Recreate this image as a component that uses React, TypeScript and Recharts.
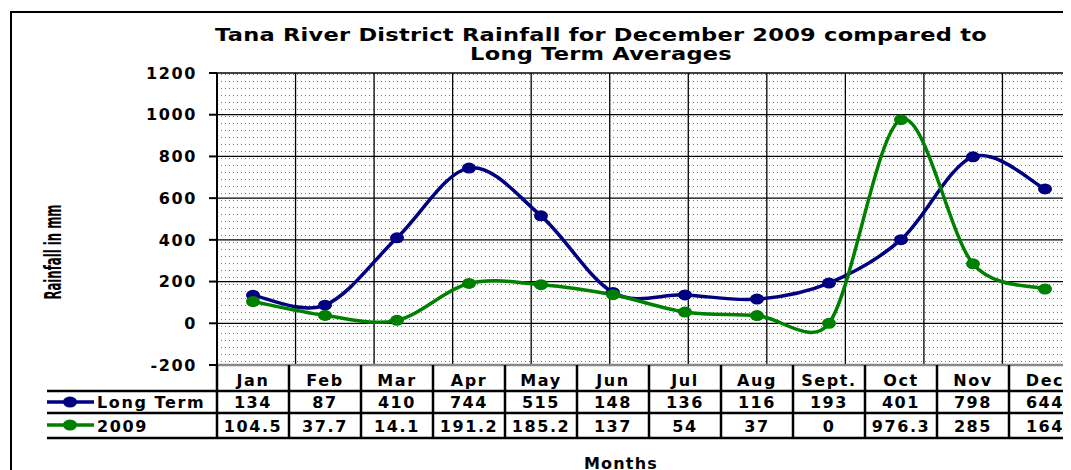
import { LineChart, Line, XAxis, YAxis, CartesianGrid } from "recharts";

const months = ["Jan", "Feb", "Mar", "Apr", "May", "Jun", "Jul", "Aug", "Sept.", "Oct", "Nov", "Dec"];
const longTerm = [134, 87, 410, 744, 515, 148, 136, 116, 193, 401, 798, 644];
const rain2009 = [104.5, 37.7, 14.1, 191.2, 185.2, 137, 54, 37, 0, 976.3, 285, 164];
const yTicks = [-200, 0, 200, 400, 600, 800, 1000, 1200];
const seriesNames = ["Long Term", "2009"];

const data = months.map((m, i) => ({ month: m, longTerm: longTerm[i], rain2009: rain2009[i] }));
// column edges for the grid axis (0..12)
const edgeTicks = [...months.map((_, i) => i), months.length];

const BLUE = "#000080";
const GREEN = "#008000";
const COL_W = 72;
const FONT = "'DejaVu Sans', Verdana, sans-serif";

// Excel style smoothing: bezier with 1/6 tangents, clamped to half the segment.
// distances measured with x squeezed a bit (the original chart was narrower)
function excelCurve(context: any) {
  let pts: number[][] = [];
  const dist = (a: number[], b: number[]) => Math.hypot((a[0] - b[0]) * 0.74, a[1] - b[1]);
  return {
    areaStart() {},
    areaEnd() {},
    lineStart() {
      pts = [];
    },
    point(x: number, y: number) {
      pts.push([+x, +y]);
    },
    lineEnd() {
      if (!pts.length) return;
      context.moveTo(pts[0][0], pts[0][1]);
      for (let i = 0; i < pts.length - 1; i++) {
        const p0 = pts[i - 1] || pts[i];
        const p1 = pts[i];
        const p2 = pts[i + 1];
        const p3 = pts[i + 2] || p2;
        const d12 = dist(p1, p2);
        const d02 = dist(p0, p2);
        const d13 = dist(p1, p3);
        const f0 = d02 / 6 < d12 / 2 ? 1 / 6 : d12 / (2 * d02 || 1);
        const f1 = d13 / 6 < d12 / 2 ? 1 / 6 : d12 / (2 * d13 || 1);
        context.bezierCurveTo(
          p1[0] + (p2[0] - p0[0]) * f0,
          p1[1] + (p2[1] - p0[1]) * f0,
          p2[0] - (p3[0] - p1[0]) * f1,
          p2[1] - (p3[1] - p1[1]) * f1,
          p2[0],
          p2[1]
        );
      }
    },
  };
}

const makeDot = (color: string) => (p: any) => (
  <ellipse key={`d-${p.index}`} cx={p.cx} cy={p.cy} rx={7} ry={5.5} fill={color} />
);

const cellText = {
  fontFamily: FONT,
  fontWeight: "bold" as const,
  fontSize: 16,
  letterSpacing: 1.6,
  fill: "#000",
};

// x axis tick draws the data table column under each month
function TableTick(props: any) {
  const { x, y, payload, index } = props;
  const l = x - COL_W / 2;
  const r = x + COL_W / 2;
  const line = { stroke: "#000", strokeWidth: 2.5 };
  return (
    <g>
      {index === 0 && <line x1={l} x2={l} y1={y} y2={y + 73} {...line} />}
      <line x1={r} x2={r} y1={y} y2={y + 73} {...line} />
      {[26, 48, 73].map((d) => (
        <line key={d} x1={index === 0 ? 39 : l} x2={r} y1={y + d} y2={y + d} {...line} />
      ))}
      <text x={x} y={y + 21} textAnchor="middle" {...cellText}>
        {payload.value}
      </text>
      <text x={x} y={y + 43} textAnchor="middle" {...cellText}>
        {longTerm[index]}
      </text>
      <text x={x} y={y + 67} textAnchor="middle" {...cellText}>
        {rain2009[index]}
      </text>
      {index === 0 &&
        [BLUE, GREEN].map((c, k) => (
          <g key={c}>
            <line x1={39} x2={86} y1={y + 37 + k * 23} y2={y + 37 + k * 23} stroke={c} strokeWidth={3.5} />
            <ellipse cx={62} cy={y + 37 + k * 23} rx={7} ry={5.5} fill={c} />
            <text x={89} y={y + 43 + k * 24} textAnchor="start" {...cellText} letterSpacing={1.6}>
              {seriesNames[k]}
            </text>
          </g>
        ))}
    </g>
  );
}

export default function App() {
  return (
    <div style={{ position: "relative", width: 1063, height: 462, overflow: "hidden", background: "#fff" }}>
      <svg width={0} height={0} style={{ position: "absolute" }}>
        <defs>
          <pattern id="dots" width={4} height={7} patternUnits="userSpaceOnUse">
            <rect width={4} height={7} fill="#fff" />
            <rect x={1} y={3} width={1} height={1} fill="#777" />
          </pattern>
        </defs>
      </svg>
      <div
        style={{
          position: "absolute",
          left: 2,
          top: 3,
          width: 1300,
          height: 700,
          border: "2px solid #000",
        }}
      />
      <div
        style={{
          position: "absolute",
          left: 193,
          top: 17,
          width: 800,
          textAlign: "center",
          fontFamily: FONT,
          fontWeight: "bold",
          fontSize: 18,
          lineHeight: "19px",
          letterSpacing: 0.2,
          transform: "scaleX(1.25)",
        }}
      >
        Tana River District Rainfall for December 2009 compared to
        <br />
        Long Term Averages
      </div>
      <div
        style={{
          position: "absolute",
          left: -24,
          top: 234,
          width: 140,
          height: 20,
          lineHeight: "20px",
          textAlign: "center",
          fontFamily: "'Liberation Sans Narrow', 'DejaVu Sans Condensed', sans-serif",
          fontWeight: "bold",
          fontSize: 13,
          transform: "rotate(-90deg) scaleY(1.8)",
        }}
      >
        Rainfall in mm
      </div>
      <div
        style={{
          position: "absolute",
          left: 513,
          top: 446,
          width: 200,
          textAlign: "center",
          fontFamily: FONT,
          fontWeight: "bold",
          fontSize: 16,
          letterSpacing: 1.2,
        }}
      >
        Months
      </div>
      <div style={{ position: "absolute", left: 0, top: 0 }}>
        <LineChart width={1090} height={462} data={data} margin={{ top: 65, right: 17, bottom: 0, left: 0 }}>
          <CartesianGrid
            xAxisId="grid"
            fill="url(#dots)"
            fillOpacity={1}
            stroke="#000"
            strokeWidth={1.3}
          />
          <XAxis
            dataKey="month"
            interval={0}
            height={105}
            padding={{ left: COL_W / 2, right: COL_W / 2 }}
            tickLine={false}
            tickSize={0}
            tickMargin={0}
            axisLine={{ stroke: "#888", strokeWidth: 2.5 }}
            tick={<TableTick />}
          />
          <XAxis xAxisId="grid" type="number" domain={[0, 12]} ticks={edgeTicks} allowDataOverflow hide />
          <YAxis
            domain={[-200, 1200]}
            ticks={yTicks}
            interval={0}
            width={209}
            tickSize={8}
            tickMargin={12}
            axisLine={{ stroke: "#000", strokeWidth: 2 }}
            tickLine={{ stroke: "#000", strokeWidth: 2 }}
            tick={{ ...cellText }}
          />
          <Line
            dataKey="longTerm"
            type={excelCurve as any}
            stroke={BLUE}
            strokeWidth={3.5}
            dot={makeDot(BLUE)}
            isAnimationActive={false}
          />
          <Line
            dataKey="rain2009"
            type={excelCurve as any}
            stroke={GREEN}
            strokeWidth={3.5}
            dot={makeDot(GREEN)}
            isAnimationActive={false}
          />
        </LineChart>
      </div>
    </div>
  );
}
